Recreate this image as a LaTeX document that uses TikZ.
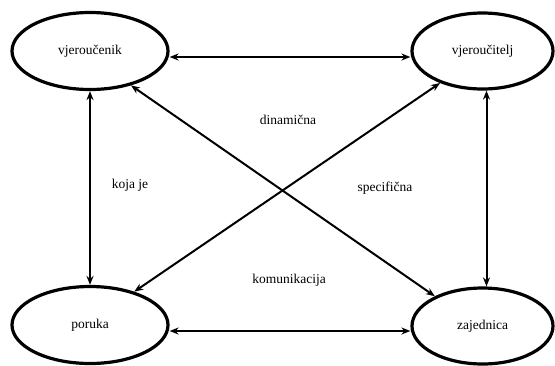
\documentclass[tikz,border=0pt]{standalone}
\usepackage{fontspec}
\setmainfont{Liberation Serif}
\usetikzlibrary{shapes.geometric,arrows.meta}
\begin{document}
\begin{tikzpicture}[x=1pt,y=-1pt,
  elli/.style={ellipse,draw,line width=3.2pt,inner sep=0pt,minimum width=156pt,minimum height=77pt,font=\fontsize{13.5}{16}\selectfont},
  link/.style={line width=2pt,{Stealth[length=9pt,width=7pt]}-{Stealth[length=9pt,width=7pt]}},
  lbl/.style={font=\fontsize{13.5}{16}\selectfont}]
\useasboundingbox (0,0) rectangle (555,365);
\node[elli] (a) at (90,51) {vjeroučenik};
\node[elli,minimum width=141pt,minimum height=76pt] (b) at (482.5,51) {vjeroučitelj};
\node[elli] (c) at (90,325) {poruka};
\node[elli,minimum width=141pt,minimum height=76pt] (d) at (482.5,326) {zajednica};
\draw[link] ([yshift=-6pt]a.east) -- ([yshift=-6pt]b.west);
\draw[link] ([yshift=-6pt]c.east) -- ([yshift=-5pt]d.west);
\draw[link] (a.south) -- (c.north);
\draw[link] ([xshift=4pt]b.south) -- ([xshift=4pt]d.north);
\draw[link] (a.-40) -- (d.148);
\draw[link] (b.-143) -- (c.37);
\node[lbl] (l1) at (288,120) {dinamična};
\node[lbl] (l2) at (130,185) {koja je};
\node[lbl] (l3) at (385,188) {specifična};
\node[lbl] (l4) at (289,280) {komunikacija};
\end{tikzpicture}
\end{document}
